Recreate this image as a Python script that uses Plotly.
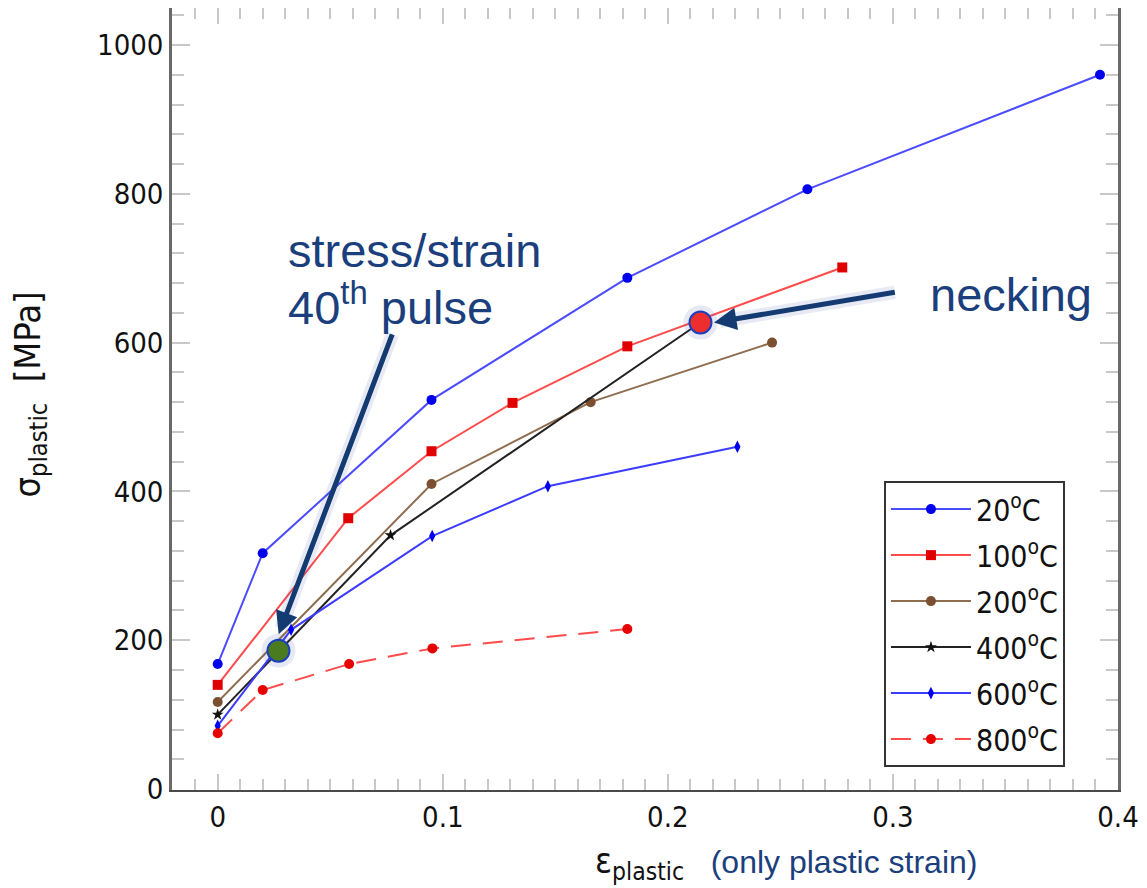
import plotly.graph_objects as go

# Plastic stress–strain curves at several temperatures
strain_20 = [0.0, 0.02, 0.095, 0.182, 0.262, 0.392]
stress_20 = [168, 317, 523, 687, 806, 960]

strain_100 = [0.0, 0.058, 0.095, 0.131, 0.182, 0.2775]
stress_100 = [140, 364, 454, 519, 595, 701]

strain_200 = [0.0, 0.095, 0.1657, 0.2463]
stress_200 = [117, 410, 520, 600]

strain_400 = [0.0, 0.0768, 0.2145]
stress_400 = [100, 341, 627]

strain_600 = [0.0, 0.0326, 0.0953, 0.1467, 0.2309]
stress_600 = [85, 214, 340, 407, 460]

strain_800 = [0.0, 0.02, 0.0584, 0.0954, 0.182]
stress_800 = [75, 133, 168, 189, 215]

# Highlighted states
pulse_strain, pulse_stress = [0.027], [186]
neck_strain, neck_stress = [0.2145], [627]

labels = ["20<sup>o</sup>C", "100<sup>o</sup>C", "200<sup>o</sup>C",
          "400<sup>o</sup>C", "600<sup>o</sup>C", "800<sup>o</sup>C"]

NAVY = "#1b3f7d"
TICK_FONT = "DejaVu Sans Condensed, DejaVu Sans, sans-serif"
TEXT_FONT = "Liberation Sans, Arial, sans-serif"

series = [
    (strain_20, stress_20, labels[0], "#4b4bff", "#0000ee", "circle", 10, "solid"),
    (strain_100, stress_100, labels[1], "#ff4b4b", "#e00000", "square", 10, "solid"),
    (strain_200, stress_200, labels[2], "#8f6e50", "#7a5030", "circle", 10, "solid"),
    (strain_400, stress_400, labels[3], "#222222", "#111111", "star", 9, "solid"),
    (strain_600, stress_600, labels[4], "#3c3cff", "#0000ee", "diamond-tall", 9, "solid"),
    (strain_800, stress_800, labels[5], "#ff4b4b", "#e60000", "circle", 10, "20px,12px"),
]

fig = go.Figure()
for i, (xs, ys, name, lc, mc, sym, ms, dash) in enumerate(series):
    fig.add_trace(go.Scatter(
        x=xs, y=ys, name=name, mode="lines+markers",
        line=dict(color=lc, width=2, dash=dash),
        marker=dict(color=mc, symbol=sym, size=ms, line=dict(width=0)),
        legendgroup=f"g{i}",
    ))

# soft halos behind the highlighted markers
fig.add_trace(go.Scatter(
    x=pulse_strain + neck_strain, y=pulse_stress + neck_stress, mode="markers",
    marker=dict(size=34, color="rgba(60,80,170,0.13)"), showlegend=False, hoverinfo="skip"))
fig.add_trace(go.Scatter(
    x=pulse_strain, y=pulse_stress, mode="markers",
    marker=dict(size=22, color="#4b7a1f", line=dict(color="#1a3fbf", width=2)),
    showlegend=False))
fig.add_trace(go.Scatter(
    x=neck_strain, y=neck_stress, mode="markers",
    marker=dict(size=22, color="#ee2e2e", line=dict(color="#1a3fbf", width=2)),
    showlegend=False))

# invisible trace carrying the top tick axis
fig.add_trace(go.Scatter(x=[0], y=[0], xaxis="x2", mode="markers",
                         marker=dict(opacity=0), showlegend=False, hoverinfo="skip"))

X_RANGE = [-0.0203, 0.4]
Y_RANGE = [-1.3, 1049.7]

tick_common = dict(ticks="inside", tickcolor="#c8c8c8", tickwidth=1.5,
                   showgrid=False, zeroline=False)

fig.update_layout(
    width=1147, height=888,
    margin=dict(l=172, r=29, t=8, b=98),
    paper_bgcolor="white", plot_bgcolor="white",
    xaxis=dict(range=X_RANGE, dtick=0.1, tick0=0, ticklen=16,
               minor=dict(dtick=0.01, ticklen=11, ticks="inside", tickcolor="#c8c8c8"),
               showline=True, linecolor="#4a4a4a", linewidth=2,
               tickfont=dict(family=TICK_FONT, size=29, color="#111"),
               **tick_common),
    xaxis2=dict(range=X_RANGE, overlaying="x", side="top", anchor="y",
                dtick=0.1, tick0=0, ticklen=16, showticklabels=False, showline=False,
                minor=dict(dtick=0.01, ticklen=11, ticks="inside", tickcolor="#c8c8c8"),
                **tick_common),
    yaxis=dict(range=Y_RANGE, dtick=200, tick0=0, ticklen=18, mirror="ticks",
               minor=dict(dtick=40, ticklen=12, ticks="inside", tickcolor="#c8c8c8"),
               showline=True, linecolor="#6a6a6a", linewidth=2.5,
               tickfont=dict(family=TICK_FONT, size=29, color="#111"),
               **tick_common),
    legend=dict(x=0.7526, y=0.395, xanchor="left", yanchor="top",
                bgcolor="white", bordercolor="#333", borderwidth=2,
                font=dict(family=TICK_FONT, size=30, color="#111"),
                tracegroupgap=4, itemwidth=80),
    showlegend=True,
)

annotations = [
    # axis titles
    dict(xref="paper", yref="paper", x=-0.150, y=0.506, textangle=-90,
         text="σ<sub>plastic</sub>  [MPa]", showarrow=False,
         font=dict(family=TICK_FONT, size=36, color="#111"),
         xanchor="center", yanchor="middle"),
    dict(xref="paper", yref="paper", x=0.445, y=-0.094, xanchor="left", yanchor="middle",
         text=("<span style='font-family:DejaVu Sans Condensed, DejaVu Sans;font-size:35px'>"
               "ε<sub>plastic</sub></span>"
               f"   <span style='color:{NAVY}'>(only plastic strain)</span>"),
         showarrow=False, font=dict(family=TEXT_FONT, size=32, color="#111")),
    # callout texts
    dict(x=0.0305, y=724, xref="x", yref="y", xanchor="left", yanchor="middle",
         text="stress/strain", showarrow=False,
         font=dict(family=TEXT_FONT, size=47, color=NAVY)),
    dict(x=0.0305, y=652, xref="x", yref="y", xanchor="left", yanchor="middle",
         text="40<sup>th</sup> pulse", showarrow=False,
         font=dict(family=TEXT_FONT, size=47, color=NAVY)),
    dict(x=0.3155, y=664, xref="x", yref="y", xanchor="left", yanchor="middle",
         text="necking", showarrow=False,
         font=dict(family=TEXT_FONT, size=47, color=NAVY)),
]

# callout arrows, each with a faint glow underneath
arrows = [((0.0778, 613), (0.0271, 208)), ((0.3015, 668), (0.2205, 627))]
for (tx, ty), (hx, hy) in arrows:
    annotations.append(dict(x=hx, y=hy, ax=tx, ay=ty, xref="x", yref="y",
                            axref="x", ayref="y", text="", showarrow=True,
                            arrowhead=0, arrowwidth=13, arrowcolor="rgba(70,90,170,0.12)",
                            standoff=6))
    annotations.append(dict(x=hx, y=hy, ax=tx, ay=ty, xref="x", yref="y",
                            axref="x", ayref="y", text="", showarrow=True,
                            arrowhead=2, arrowsize=0.9, arrowwidth=5, arrowcolor="#143a72",
                            standoff=0))

fig.update_layout(annotations=annotations)
fig.write_html("out.html")
